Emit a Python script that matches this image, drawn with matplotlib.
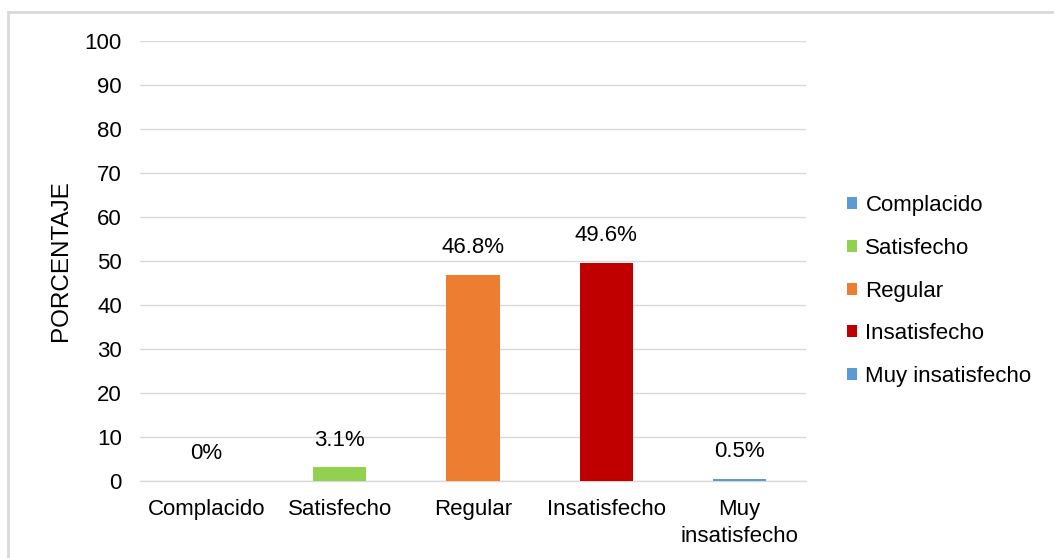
import matplotlib
matplotlib.use("Agg")
import matplotlib.pyplot as plt
from matplotlib.lines import Line2D
from matplotlib.patches import Patch

categories = ["Complacido", "Satisfecho", "Regular", "Insatisfecho", "Muy\ninsatisfecho"]
legend_labels = ["Complacido", "Satisfecho", "Regular", "Insatisfecho", "Muy insatisfecho"]
values = [0, 3.1, 46.8, 49.6, 0.5]
value_labels = ["0%", "3.1%", "46.8%", "49.6%", "0.5%"]
colors = ["#5B9BD5", "#92D050", "#ED7D31", "#C00000", "#5B9BD5"]
yticks = [0, 10, 20, 30, 40, 50, 60, 70, 80, 90, 100]

plt.rcParams['font.family'] = ['Liberation Sans', 'DejaVu Sans']

FS = 16
W, H = 1054, 558
fig = plt.figure(figsize=(W / 100, H / 100), dpi=100)
ax = fig.add_axes([140 / W, 1 - 481 / H, 666 / W, 440 / H])

x = list(range(len(categories)))
bars = ax.bar(x, values, width=0.4, color=colors, zorder=3)

for xi, v, lab in zip(x, values, value_labels):
    ax.annotate(lab, (xi, v), xytext=(0, 12), textcoords="offset points",
                ha="center", va="bottom", fontsize=FS, color="#000000")

ax.set_xlim(-0.5, len(categories) - 0.5)
ax.set_ylim(0, 100)
ax.set_yticks(yticks)
ax.set_yticklabels([str(t) for t in yticks], fontsize=FS, color="#000000")
ax.set_xticks(x)
ax.set_xticklabels(categories, fontsize=FS, color="#000000", linespacing=1.4)
ax.tick_params(axis="both", length=0)
ax.tick_params(axis="y", pad=13)
ax.tick_params(axis="x", pad=13)
ax.grid(axis="y", color="#D9D9D9", linewidth=1, zorder=0)
for s in ["top", "right", "left"]:
    ax.spines[s].set_visible(False)
ax.spines["bottom"].set_color("#D9D9D9")
ax.spines["bottom"].set_linewidth(1)
ax.set_ylabel("PORCENTAJE", fontsize=17.5, labelpad=9)

handles = [Patch(facecolor=c, edgecolor="none") for c in colors]
leg = fig.legend(handles, legend_labels, loc="center left",
                 bbox_to_anchor=(827 / W, 1 - 291 / H), frameon=False,
                 fontsize=FS, handlelength=0.45, handleheight=0.45,
                 handletextpad=0.38, labelspacing=0.98)

# outer chart border (left & top visible)
fig.add_artist(Line2D([8 / W, 8 / W], [0, 1 - 12 / H], transform=fig.transFigure,
                      color="#D9D9D9", linewidth=2))
fig.add_artist(Line2D([8 / W, 1], [1 - 12 / H, 1 - 12 / H], transform=fig.transFigure,
                      color="#D9D9D9", linewidth=2))

fig.savefig("out.png", dpi=100)
